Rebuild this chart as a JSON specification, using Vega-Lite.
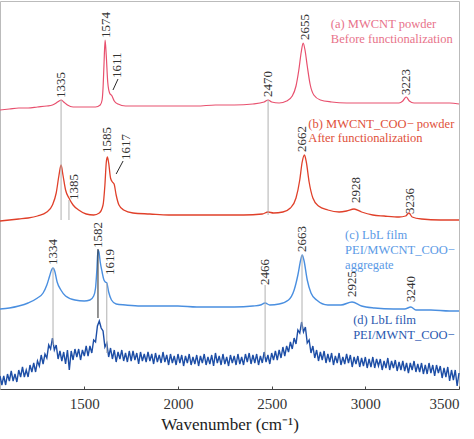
{
  "$schema": "https://vega.github.io/schema/vega-lite/v6.json",
  "width": 459,
  "height": 388,
  "autosize": {"type": "none"},
  "padding": {"left": 0, "top": 1, "right": 15, "bottom": 50},
  "config": {"view": {"stroke": "#bbbbbb"}, "font": "Liberation Serif, Times New Roman, serif"},
  "datasets": {
    "smooth": [
      {"s":"a","w":1050,"v":279},{"s":"a","w":1100,"v":280},{"s":"a","w":1150,"v":281},{"s":"a","w":1200,"v":281},{"s":"a","w":1250,"v":282},{"s":"a","w":1300,"v":283},{"s":"a","w":1330,"v":284},{"s":"a","w":1350,"v":286},{"s":"a","w":1365,"v":288},{"s":"a","w":1376,"v":289},{"s":"a","w":1390,"v":287},{"s":"a","w":1410,"v":284},{"s":"a","w":1440,"v":282},{"s":"a","w":1500,"v":282},{"s":"a","w":1560,"v":282},{"s":"a","w":1585,"v":284},{"s":"a","w":1595,"v":289},{"s":"a","w":1600,"v":301},{"s":"a","w":1605,"v":324},{"s":"a","w":1611,"v":349},{"s":"a","w":1617,"v":334},{"s":"a","w":1625,"v":307},{"s":"a","w":1635,"v":296},{"s":"a","w":1648,"v":293},{"s":"a","w":1660,"v":288},{"s":"a","w":1680,"v":285},{"s":"a","w":1720,"v":283},{"s":"a","w":1800,"v":283},{"s":"a","w":1900,"v":283},{"s":"a","w":2000,"v":283},{"s":"a","w":2100,"v":283},{"s":"a","w":2200,"v":284},{"s":"a","w":2300,"v":284},{"s":"a","w":2400,"v":285},{"s":"a","w":2460,"v":287},{"s":"a","w":2481,"v":289},{"s":"a","w":2500,"v":287},{"s":"a","w":2540,"v":286},{"s":"a","w":2580,"v":288},{"s":"a","w":2610,"v":293},{"s":"a","w":2630,"v":303},{"s":"a","w":2645,"v":319},{"s":"a","w":2658,"v":337},{"s":"a","w":2668,"v":346},{"s":"a","w":2678,"v":339},{"s":"a","w":2690,"v":323},{"s":"a","w":2705,"v":305},{"s":"a","w":2725,"v":294},{"s":"a","w":2760,"v":289},{"s":"a","w":2820,"v":287},{"s":"a","w":2900,"v":286},{"s":"a","w":3000,"v":286},{"s":"a","w":3100,"v":286},{"s":"a","w":3180,"v":286},{"s":"a","w":3200,"v":288},{"s":"a","w":3218,"v":292},{"s":"a","w":3235,"v":288},{"s":"a","w":3260,"v":286},{"s":"a","w":3350,"v":286},{"s":"a","w":3450,"v":286},{"s":"a","w":3500,"v":285},
      {"s":"b","w":1050,"v":168},{"s":"b","w":1100,"v":169},{"s":"b","w":1150,"v":170},{"s":"b","w":1200,"v":171},{"s":"b","w":1250,"v":173},{"s":"b","w":1300,"v":177},{"s":"b","w":1330,"v":184},{"s":"b","w":1350,"v":196},{"s":"b","w":1365,"v":214},{"s":"b","w":1376,"v":224},{"s":"b","w":1386,"v":214},{"s":"b","w":1400,"v":199},{"s":"b","w":1418,"v":191},{"s":"b","w":1440,"v":184},{"s":"b","w":1470,"v":179},{"s":"b","w":1510,"v":175},{"s":"b","w":1550,"v":174},{"s":"b","w":1580,"v":176},{"s":"b","w":1600,"v":184},{"s":"b","w":1610,"v":204},{"s":"b","w":1617,"v":226},{"s":"b","w":1623,"v":232},{"s":"b","w":1630,"v":226},{"s":"b","w":1640,"v":211},{"s":"b","w":1650,"v":207},{"s":"b","w":1659,"v":205},{"s":"b","w":1670,"v":194},{"s":"b","w":1685,"v":184},{"s":"b","w":1710,"v":179},{"s":"b","w":1760,"v":176},{"s":"b","w":1850,"v":175},{"s":"b","w":1950,"v":174},{"s":"b","w":2050,"v":174},{"s":"b","w":2150,"v":174},{"s":"b","w":2250,"v":174},{"s":"b","w":2350,"v":174},{"s":"b","w":2450,"v":175},{"s":"b","w":2481,"v":177},{"s":"b","w":2510,"v":176},{"s":"b","w":2560,"v":177},{"s":"b","w":2600,"v":181},{"s":"b","w":2630,"v":191},{"s":"b","w":2650,"v":209},{"s":"b","w":2663,"v":227},{"s":"b","w":2675,"v":234},{"s":"b","w":2685,"v":227},{"s":"b","w":2700,"v":207},{"s":"b","w":2720,"v":191},{"s":"b","w":2750,"v":183},{"s":"b","w":2800,"v":179},{"s":"b","w":2860,"v":177},{"s":"b","w":2900,"v":178},{"s":"b","w":2940,"v":180},{"s":"b","w":2980,"v":177},{"s":"b","w":3040,"v":174},{"s":"b","w":3100,"v":173},{"s":"b","w":3180,"v":172},{"s":"b","w":3215,"v":173},{"s":"b","w":3233,"v":176},{"s":"b","w":3250,"v":172},{"s":"b","w":3300,"v":170},{"s":"b","w":3400,"v":169},{"s":"b","w":3500,"v":169},
      {"s":"c","w":1050,"v":80},{"s":"c","w":1100,"v":81},{"s":"c","w":1150,"v":83},{"s":"c","w":1200,"v":86},{"s":"c","w":1250,"v":91},{"s":"c","w":1280,"v":96},{"s":"c","w":1300,"v":104},{"s":"c","w":1315,"v":113},{"s":"c","w":1325,"v":119},{"s":"c","w":1333,"v":121},{"s":"c","w":1342,"v":118},{"s":"c","w":1355,"v":107},{"s":"c","w":1375,"v":99},{"s":"c","w":1400,"v":93},{"s":"c","w":1450,"v":89},{"s":"c","w":1500,"v":88},{"s":"c","w":1530,"v":89},{"s":"c","w":1550,"v":93},{"s":"c","w":1560,"v":101},{"s":"c","w":1567,"v":119},{"s":"c","w":1573,"v":139},{"s":"c","w":1578,"v":137},{"s":"c","w":1585,"v":127},{"s":"c","w":1595,"v":117},{"s":"c","w":1605,"v":109},{"s":"c","w":1612,"v":107},{"s":"c","w":1620,"v":106},{"s":"c","w":1630,"v":97},{"s":"c","w":1645,"v":89},{"s":"c","w":1670,"v":85},{"s":"c","w":1720,"v":84},{"s":"c","w":1800,"v":83},{"s":"c","w":1900,"v":83},{"s":"c","w":2000,"v":83},{"s":"c","w":2100,"v":82},{"s":"c","w":2200,"v":82},{"s":"c","w":2300,"v":82},{"s":"c","w":2400,"v":83},{"s":"c","w":2440,"v":84},{"s":"c","w":2465,"v":86},{"s":"c","w":2490,"v":84},{"s":"c","w":2540,"v":85},{"s":"c","w":2590,"v":89},{"s":"c","w":2620,"v":99},{"s":"c","w":2640,"v":114},{"s":"c","w":2655,"v":129},{"s":"c","w":2663,"v":134},{"s":"c","w":2672,"v":129},{"s":"c","w":2690,"v":109},{"s":"c","w":2710,"v":96},{"s":"c","w":2740,"v":89},{"s":"c","w":2800,"v":84},{"s":"c","w":2870,"v":84},{"s":"c","w":2929,"v":87},{"s":"c","w":2980,"v":83},{"s":"c","w":3050,"v":81},{"s":"c","w":3150,"v":80},{"s":"c","w":3210,"v":80},{"s":"c","w":3243,"v":82},{"s":"c","w":3270,"v":79},{"s":"c","w":3350,"v":79},{"s":"c","w":3450,"v":78},{"s":"c","w":3500,"v":78}
    ],
    "noisy": [
      {"w":1050,"v":13},{"w":1060,"v":4},{"w":1070,"v":13},{"w":1080,"v":4},{"w":1090,"v":15},{"w":1100,"v":8},{"w":1110,"v":18},{"w":1120,"v":8},{"w":1130,"v":15},{"w":1140,"v":7},{"w":1150,"v":19},{"w":1160,"v":12},{"w":1170,"v":22},{"w":1180,"v":12},{"w":1190,"v":19},{"w":1200,"v":12},{"w":1210,"v":24},{"w":1220,"v":17},{"w":1230,"v":26},{"w":1240,"v":17},{"w":1250,"v":28},{"w":1260,"v":23},{"w":1270,"v":34},{"w":1280,"v":25},{"w":1290,"v":35},{"w":1300,"v":31},{"w":1310,"v":44},{"w":1320,"v":40},{"w":1330,"v":51},{"w":1340,"v":39},{"w":1350,"v":44},{"w":1360,"v":30},{"w":1370,"v":38},{"w":1380,"v":28},{"w":1390,"v":37},{"w":1400,"v":25},{"w":1410,"v":39},{"w":1420,"v":19},{"w":1430,"v":38},{"w":1440,"v":29},{"w":1450,"v":40},{"w":1460,"v":32},{"w":1470,"v":40},{"w":1480,"v":29},{"w":1490,"v":39},{"w":1500,"v":33},{"w":1510,"v":43},{"w":1520,"v":33},{"w":1530,"v":43},{"w":1540,"v":36},{"w":1550,"v":49},{"w":1560,"v":47},{"w":1570,"v":63},{"w":1580,"v":68},{"w":1590,"v":61},{"w":1600,"v":58},{"w":1610,"v":42},{"w":1620,"v":46},{"w":1630,"v":32},{"w":1640,"v":41},{"w":1650,"v":30},{"w":1660,"v":39},{"w":1670,"v":27},{"w":1680,"v":37},{"w":1690,"v":30},{"w":1700,"v":39},{"w":1710,"v":28},{"w":1720,"v":36},{"w":1730,"v":27},{"w":1740,"v":38},{"w":1750,"v":28},{"w":1760,"v":38},{"w":1770,"v":29},{"w":1780,"v":36},{"w":1790,"v":25},{"w":1800,"v":37},{"w":1810,"v":28},{"w":1820,"v":35},{"w":1830,"v":27},{"w":1840,"v":37},{"w":1850,"v":28},{"w":1860,"v":35},{"w":1870,"v":25},{"w":1880,"v":36},{"w":1890,"v":27},{"w":1900,"v":34},{"w":1910,"v":26},{"w":1920,"v":37},{"w":1930,"v":27},{"w":1940,"v":34},{"w":1950,"v":24},{"w":1960,"v":35},{"w":1970,"v":26},{"w":1980,"v":33},{"w":1990,"v":24},{"w":2000,"v":35},{"w":2010,"v":26},{"w":2020,"v":34},{"w":2030,"v":23},{"w":2040,"v":33},{"w":2050,"v":26},{"w":2060,"v":35},{"w":2070,"v":24},{"w":2080,"v":32},{"w":2090,"v":25},{"w":2100,"v":34},{"w":2110,"v":23},{"w":2120,"v":33},{"w":2130,"v":26},{"w":2140,"v":35},{"w":2150,"v":24},{"w":2160,"v":32},{"w":2170,"v":25},{"w":2180,"v":34},{"w":2190,"v":23},{"w":2200,"v":36},{"w":2210,"v":26},{"w":2220,"v":33},{"w":2230,"v":24},{"w":2240,"v":35},{"w":2250,"v":25},{"w":2260,"v":32},{"w":2270,"v":23},{"w":2280,"v":34},{"w":2290,"v":26},{"w":2300,"v":33},{"w":2310,"v":24},{"w":2320,"v":35},{"w":2330,"v":25},{"w":2340,"v":32},{"w":2350,"v":24},{"w":2360,"v":35},{"w":2370,"v":27},{"w":2380,"v":36},{"w":2390,"v":25},{"w":2400,"v":34},{"w":2410,"v":26},{"w":2420,"v":35},{"w":2430,"v":24},{"w":2440,"v":33},{"w":2450,"v":26},{"w":2460,"v":37},{"w":2470,"v":27},{"w":2480,"v":34},{"w":2490,"v":25},{"w":2500,"v":36},{"w":2510,"v":29},{"w":2520,"v":38},{"w":2530,"v":29},{"w":2540,"v":39},{"w":2550,"v":31},{"w":2560,"v":42},{"w":2570,"v":33},{"w":2580,"v":43},{"w":2590,"v":37},{"w":2600,"v":47},{"w":2610,"v":40},{"w":2620,"v":51},{"w":2630,"v":45},{"w":2640,"v":59},{"w":2650,"v":56},{"w":2660,"v":67},{"w":2670,"v":57},{"w":2680,"v":62},{"w":2690,"v":46},{"w":2700,"v":49},{"w":2710,"v":36},{"w":2720,"v":43},{"w":2730,"v":31},{"w":2740,"v":39},{"w":2750,"v":28},{"w":2760,"v":37},{"w":2770,"v":29},{"w":2780,"v":38},{"w":2790,"v":26},{"w":2800,"v":35},{"w":2810,"v":27},{"w":2820,"v":36},{"w":2830,"v":24},{"w":2840,"v":33},{"w":2850,"v":26},{"w":2860,"v":36},{"w":2870,"v":24},{"w":2880,"v":32},{"w":2890,"v":25},{"w":2900,"v":35},{"w":2910,"v":26},{"w":2920,"v":34},{"w":2930,"v":22},{"w":2940,"v":32},{"w":2950,"v":25},{"w":2960,"v":33},{"w":2970,"v":22},{"w":2980,"v":31},{"w":2990,"v":23},{"w":3000,"v":32},{"w":3010,"v":21},{"w":3020,"v":30},{"w":3030,"v":22},{"w":3040,"v":32},{"w":3050,"v":21},{"w":3060,"v":30},{"w":3070,"v":23},{"w":3080,"v":30},{"w":3090,"v":19},{"w":3100,"v":28},{"w":3110,"v":21},{"w":3120,"v":31},{"w":3130,"v":19},{"w":3140,"v":28},{"w":3150,"v":21},{"w":3160,"v":29},{"w":3170,"v":18},{"w":3180,"v":27},{"w":3190,"v":19},{"w":3200,"v":28},{"w":3210,"v":18},{"w":3220,"v":26},{"w":3230,"v":16},{"w":3240,"v":26},{"w":3250,"v":19},{"w":3260,"v":28},{"w":3270,"v":17},{"w":3280,"v":25},{"w":3290,"v":17},{"w":3300,"v":26},{"w":3310,"v":15},{"w":3320,"v":24},{"w":3330,"v":15},{"w":3340,"v":26},{"w":3350,"v":16},{"w":3360,"v":24},{"w":3370,"v":13},{"w":3380,"v":24},{"w":3390,"v":16},{"w":3400,"v":23},{"w":3410,"v":11},{"w":3420,"v":21},{"w":3430,"v":12},{"w":3440,"v":22},{"w":3450,"v":8},{"w":3460,"v":19},{"w":3470,"v":9},{"w":3480,"v":19},{"w":3490,"v":3},{"w":3500,"v":16}
    ],
    "guides": [
      {"k":"gray","w1":1376,"w2":1376,"v1":289,"v2":169},
      {"k":"gray","w1":1418,"w2":1418,"v1":189,"v2":169},
      {"k":"gray","w1":2481,"w2":2481,"v1":289,"v2":174},
      {"k":"gray","w1":1333,"w2":1333,"v1":121,"v2":44},
      {"k":"dark","w1":1573,"w2":1573,"v1":140,"v2":71},
      {"k":"gray","w1":1620,"w2":1620,"v1":106,"v2":36},
      {"k":"gray","w1":2465,"w2":2465,"v1":104,"v2":32},
      {"k":"gray","w1":2662,"w2":2662,"v1":134,"v2":59},
      {"k":"dark","w1":1653,"w2":1680,"v1":299,"v2":310},
      {"k":"dark","w1":1670,"w2":1707,"v1":215,"v2":228}
    ],
    "peaks": [
      {"t":"1335","w":1376,"v":291},
      {"t":"1574","w":1616,"v":351},
      {"t":"1611","w":1675,"v":311},
      {"t":"2470","w":2481,"v":292},
      {"t":"2655","w":2678,"v":349},
      {"t":"3223","w":3219,"v":294},
      {"t":"1385","w":1445,"v":189},
      {"t":"1585","w":1622,"v":236},
      {"t":"1617","w":1722,"v":229},
      {"t":"2662","w":2661,"v":237},
      {"t":"2928","w":2951,"v":186},
      {"t":"3236","w":3237,"v":175},
      {"t":"1334","w":1333,"v":124},
      {"t":"1582","w":1571,"v":141},
      {"t":"1619","w":1638,"v":114},
      {"t":"2466","w":2463,"v":104},
      {"t":"2663","w":2664,"v":137},
      {"t":"2925","w":2931,"v":92},
      {"t":"3240","w":3243,"v":87}
    ],
    "names": [
      {"s":"a","t":"(a) MWCNT powder","w":2816,"v":365},
      {"s":"a","t":"Before functionalization","w":2816,"v":350},
      {"s":"b","t":"(b) MWCNT_COO− powder","w":2696,"v":265},
      {"s":"b","t":"After functionalization","w":2696,"v":251},
      {"s":"c","t":"(c) LbL film","w":2892,"v":154},
      {"s":"c","t":"PEI/MWCNT_COO−","w":2892,"v":139},
      {"s":"c","t":"aggregate","w":2892,"v":124},
      {"s":"d","t":"(d) LbL film","w":2935,"v":69},
      {"s":"d","t":"PEI/MWNT_COO−","w":2935,"v":54}
    ]
  },
  "layer": [
    {
      "data": {"name": "smooth"},
      "mark": {"type": "line", "interpolate": "monotone"},
      "encoding": {
        "x": {"field": "w", "type": "quantitative", "scale": {"domain": [1050, 3500], "nice": false, "zero": false},
          "axis": {"values": [1500, 2000, 2500, 3000, 3500], "format": "d", "title": "Wavenumber (cm⁻¹)", "grid": false,
            "domainColor": "#444", "tickColor": "#444", "tickSize": -3, "labelPadding": 10,
            "labelFontSize": 15, "labelColor": "#333", "titleFontSize": 17, "titleFontWeight": "normal",
            "titleColor": "#222", "titlePadding": 5,
            "labelFont": "Liberation Serif, Times New Roman, serif", "titleFont": "Liberation Serif, Times New Roman, serif"}},
        "y": {"field": "v", "type": "quantitative", "scale": {"domain": [0, 388], "nice": false}, "axis": null},
        "color": {"field": "s", "type": "nominal", "legend": null,
          "scale": {"domain": ["a", "b", "c"], "range": ["#e8506e", "#e0402a", "#4a8fe0"]}},
        "strokeWidth": {"field": "s", "type": "nominal", "legend": null,
          "scale": {"domain": ["a", "b", "c"], "range": [1.2, 1.4, 1.2]}}
      }
    },
    {
      "data": {"name": "noisy"},
      "mark": {"type": "line", "color": "#1d4ea6", "strokeWidth": 1.4},
      "encoding": {
        "x": {"field": "w", "type": "quantitative"},
        "y": {"field": "v", "type": "quantitative"}
      }
    },
    {
      "data": {"name": "guides"},
      "mark": {"type": "rule", "strokeWidth": 1},
      "encoding": {
        "x": {"field": "w1", "type": "quantitative"},
        "x2": {"field": "w2"},
        "y": {"field": "v1", "type": "quantitative"},
        "y2": {"field": "v2"},
        "stroke": {"field": "k", "type": "nominal", "legend": null,
          "scale": {"domain": ["gray", "dark"], "range": ["#b0b0b0", "#2a2a2a"]}}
      }
    },
    {
      "data": {"name": "peaks"},
      "mark": {"type": "text", "angle": 270, "align": "left", "baseline": "middle", "fontSize": 13, "color": "#333333", "font": "Liberation Serif, Times New Roman, serif"},
      "encoding": {
        "x": {"field": "w", "type": "quantitative"},
        "y": {"field": "v", "type": "quantitative"},
        "text": {"field": "t"}
      }
    },
    {
      "data": {"name": "names"},
      "mark": {"type": "text", "align": "left", "baseline": "middle", "fontSize": 12.5, "font": "Liberation Serif, Times New Roman, serif"},
      "encoding": {
        "x": {"field": "w", "type": "quantitative"},
        "y": {"field": "v", "type": "quantitative"},
        "text": {"field": "t"},
        "fill": {"field": "s", "type": "nominal", "legend": null,
          "scale": {"domain": ["a", "b", "c", "d"], "range": ["#e8728a", "#e0503a", "#5b9ae6", "#2a58b0"]}}
      }
    },
    {
      "mark": {"type": "rule", "color": "#444444", "strokeWidth": 1.2},
      "encoding": {"x": {"datum": 3500}}
    }
  ],
  "resolve": {"scale": {"color": "independent"}}
}
